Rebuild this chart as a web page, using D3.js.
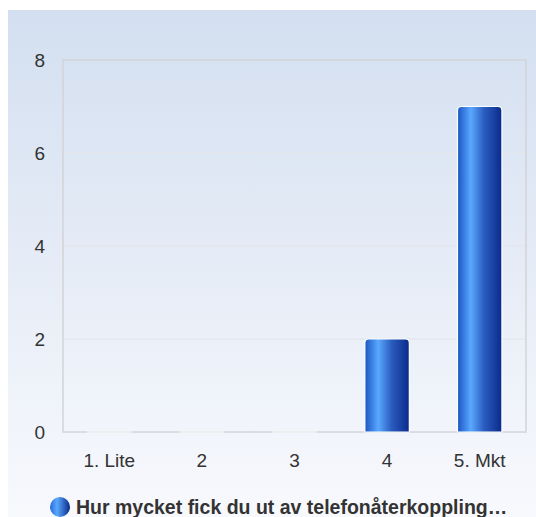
<!DOCTYPE html>
<html>
<head>
<meta charset="utf-8">
<script src="https://cdn.jsdelivr.net/npm/d3@7"></script>
<style>
  html, body { margin: 0; padding: 0; background: #fff; }
  svg { display: block; font-family: "Liberation Sans", Arial, sans-serif; }
</style>
</head>
<body>
<svg id="chart"></svg>
<script>
(function () {
  "use strict";

  var categories = ["1. Lite", "2", "3", "4", "5. Mkt"];
  var values = [0, 0, 0, 2, 7];
  var yTicks = [0, 2, 4, 6, 8];
  var seriesName = "Hur mycket fick du ut av telefonåterkoppling…";

  var width = 536,
      height = 517,
      margin = {top: 60, right: 10, bottom: 85, left: 63};

  var svg = d3.select("svg#chart")
      .attr("width", width)
      .attr("height", height);

  var defs = svg.append("defs");

  var bg = defs.append("linearGradient")
      .attr("id", "bg")
      .attr("x1", 0).attr("y1", 0).attr("x2", 0).attr("y2", 1);
  bg.append("stop").attr("offset", "0%").attr("stop-color", "#d3dff0");
  bg.append("stop").attr("offset", "100%").attr("stop-color", "#f8f9fd");

  var bar = defs.append("linearGradient")
      .attr("id", "bar")
      .attr("x1", 0).attr("y1", 0).attr("x2", 1).attr("y2", 0);
  bar.append("stop").attr("offset", "0%").attr("stop-color", "#1a55c2");
  bar.append("stop").attr("offset", "30%").attr("stop-color", "#5aa8ff");
  bar.append("stop").attr("offset", "60%").attr("stop-color", "#2a5cbf");
  bar.append("stop").attr("offset", "100%").attr("stop-color", "#0a2a8a");

  var dot = defs.append("linearGradient")
      .attr("id", "dot")
      .attr("x1", 0).attr("y1", 0).attr("x2", 1).attr("y2", 0);
  dot.append("stop").attr("offset", "0%").attr("stop-color", "#2a6ad8");
  dot.append("stop").attr("offset", "35%").attr("stop-color", "#5aa8ff");
  dot.append("stop").attr("offset", "100%").attr("stop-color", "#0a2a8a");

  // background panel
  svg.append("rect")
      .attr("x", 8).attr("y", 10)
      .attr("width", width - 8).attr("height", height - 10)
      .attr("fill", "url(#bg)");

  var x = d3.scaleBand()
      .domain(categories)
      .range([margin.left, width - margin.right])
      .paddingInner(0.52)
      .paddingOuter(0.26);

  var y = d3.scaleLinear()
      .domain([0, 8])
      .range([height - margin.bottom, margin.top]);

  // gridlines
  svg.append("g")
      .selectAll("line")
      .data(yTicks.slice(1, -1))
      .enter().append("line")
      .attr("x1", margin.left).attr("x2", width - margin.right)
      .attr("y1", function (d) { return y(d); })
      .attr("y2", function (d) { return y(d); })
      .attr("stroke", "#e3e7ee")
      .attr("stroke-width", 1.5);

  // plot border
  svg.append("rect")
      .attr("x", margin.left).attr("y", margin.top)
      .attr("width", width - margin.right - margin.left)
      .attr("height", y(0) - margin.top)
      .attr("fill", "none")
      .attr("stroke", "#d2d4d8")
      .attr("stroke-width", 1.5);

  // y axis
  var yAxis = svg.append("g")
      .attr("transform", "translate(" + (margin.left - 18) + ",0)")
      .call(d3.axisLeft(y).tickValues(yTicks).tickSize(0).tickPadding(0));
  yAxis.select(".domain").remove();
  yAxis.selectAll("text")
      .attr("fill", "#333")
      .style("font-size", "19px");

  // x axis
  var xAxis = svg.append("g")
      .attr("transform", "translate(0," + y(0) + ")")
      .call(d3.axisBottom(x).tickSize(0).tickPadding(22));
  xAxis.select(".domain").remove();
  xAxis.selectAll("text")
      .attr("fill", "#333")
      .style("font-size", "19px");

  // bars, rounded top corners
  function barPath(d, i) {
    var x0 = x(categories[i]), w = x.bandwidth();
    var y0 = y(0), y1 = y(d);
    var r = Math.min(4, (y0 - y1) / 2);
    return "M" + x0 + "," + y0 +
        "V" + (y1 + r) +
        "Q" + x0 + "," + y1 + " " + (x0 + r) + "," + y1 +
        "H" + (x0 + w - r) +
        "Q" + (x0 + w) + "," + y1 + " " + (x0 + w) + "," + (y1 + r) +
        "V" + y0 + "Z";
  }

  svg.append("g")
      .selectAll("path")
      .data(values)
      .enter().append("path")
      .attr("d", barPath)
      .attr("fill", "url(#bar)")
      .attr("stroke", "#ffffff")
      .attr("stroke-width", 1.2);

  // legend
  var legend = svg.append("g")
      .attr("transform", "translate(60,507)");
  legend.append("circle")
      .attr("r", 10)
      .attr("fill", "url(#dot)");
  legend.append("text")
      .attr("x", 16)
      .attr("y", 7)
      .attr("fill", "#333")
      .style("font-size", "19.5px")
      .style("font-weight", "bold")
      .text(seriesName);
})();
</script>
</body>
</html>
